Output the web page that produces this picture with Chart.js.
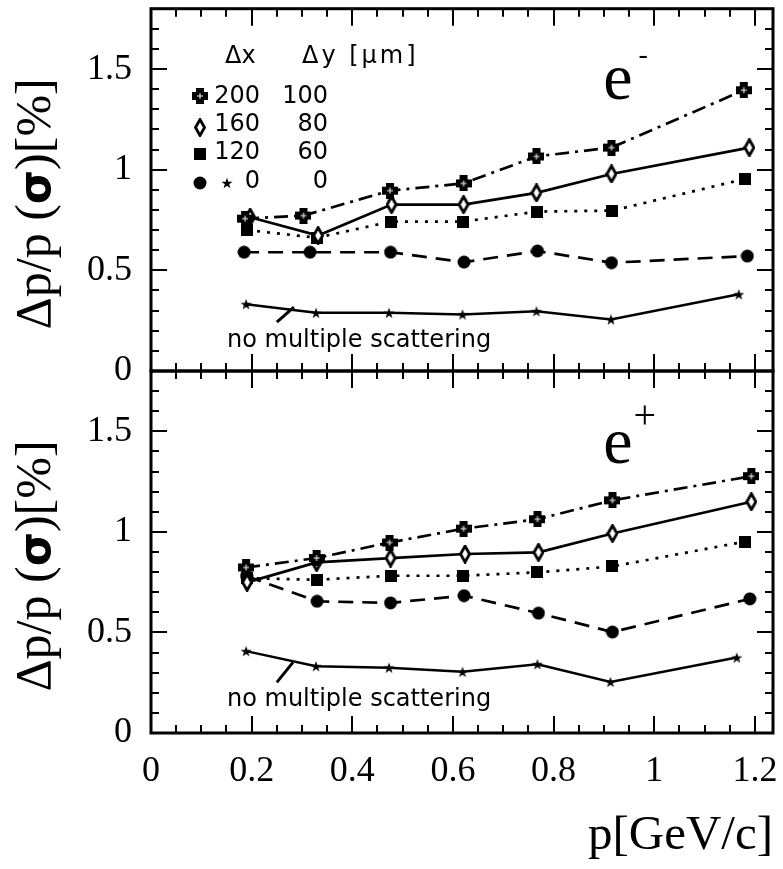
<!DOCTYPE html>
<html lang="en">
<head>
  <meta charset="UTF-8">
  <title>Momentum resolution e- / e+</title>
  <script src="https://cdn.jsdelivr.net/npm/chart.js"></script>
  <style>
    html, body { margin: 0; padding: 0; background: #fff; }
    #wrap { position: relative; width: 783px; height: 869px; }
    canvas { position: absolute; left: 0; }
    #top { top: 0; }
    #bot { top: 360px; }
  </style>
</head>
<body>
<div id="wrap">
  <canvas id="top" width="783" height="380"></canvas>
  <canvas id="bot" width="783" height="509"></canvas>
</div>
<script>
  // e- panel (top)
  const pCrossNeg = [0.187, 0.303, 0.475, 0.621, 0.766, 0.915, 1.178];
  const crossNeg  = [0.757, 0.772, 0.896, 0.932, 1.066, 1.110, 1.395];
  const pDiamNeg  = [0.197, 0.332, 0.478, 0.621, 0.766, 0.915, 1.189];
  const diamNeg   = [0.764, 0.673, 0.827, 0.827, 0.885, 0.979, 1.110];
  const pSqNeg    = [0.191, 0.330, 0.476, 0.619, 0.768, 0.917, 1.180];
  const sqNeg     = [0.700, 0.662, 0.742, 0.742, 0.792, 0.797, 0.954];
  const pCircNeg  = [0.185, 0.316, 0.476, 0.622, 0.768, 0.915, 1.185];
  const circNeg   = [0.590, 0.590, 0.590, 0.541, 0.596, 0.538, 0.571];
  const pStarNeg  = [0.189, 0.328, 0.473, 0.619, 0.766, 0.914, 1.168];
  const starNeg   = [0.332, 0.289, 0.289, 0.281, 0.297, 0.256, 0.381];

  // e+ panel (bottom)
  const pCrossPos = [0.189, 0.329, 0.474, 0.621, 0.768, 0.917, 1.193];
  const crossPos  = [0.823, 0.870, 0.947, 1.016, 1.063, 1.157, 1.277];
  const pDiamPos  = [0.191, 0.329, 0.476, 0.624, 0.770, 0.917, 1.193];
  const diamPos   = [0.749, 0.848, 0.870, 0.890, 0.898, 0.992, 1.150];
  const pSqPos    = [0.190, 0.330, 0.476, 0.619, 0.768, 0.917, 1.181];
  const sqPos     = [0.770, 0.762, 0.782, 0.782, 0.799, 0.828, 0.952];
  const pCircPos  = [0.190, 0.330, 0.476, 0.622, 0.770, 0.917, 1.190];
  const circPos   = [0.780, 0.655, 0.647, 0.683, 0.596, 0.502, 0.667];
  const pStarPos  = [0.189, 0.328, 0.473, 0.619, 0.768, 0.913, 1.164];
  const starPos   = [0.407, 0.332, 0.325, 0.304, 0.342, 0.254, 0.375];

  // legend: resolution in x and y [um]
  const legendDx = ['200', '160', '120', '0'];
  const legendDy = ['100', '80', '60', '0'];

  const xMax = 1.236, yMax = 1.8;
  const xTitle = 'p[GeV/c]';
  const noMsLabel = 'no multiple scattering';
  const SERIF = '"Liberation Serif", "Times New Roman", serif';
  const SANS = '"DejaVu Sans", sans-serif';

  Chart.defaults.font.family = SERIF;
  Chart.defaults.color = '#000';

  // marker images
  function marker(w, h, draw) {
    const c = document.createElement('canvas');
    c.width = w; c.height = h;
    draw(c.getContext('2d'), w, h);
    return c;
  }
  const crossImg = marker(16, 16, g => {
    g.fillStyle = '#000';
    g.fillRect(0, 4, 16, 8);
    g.fillRect(4, 0, 8, 16);
    g.fillStyle = '#fff';
    g.fillRect(7.5, 5, 1, 6);
    g.fillRect(5, 7.5, 6, 1);
  });
  const diamImg = marker(12, 19, g => {
    g.beginPath();
    g.moveTo(6, 1.5); g.lineTo(10.5, 9.5); g.lineTo(6, 17.5); g.lineTo(1.5, 9.5);
    g.closePath();
    g.fillStyle = '#fff'; g.fill();
    g.strokeStyle = '#000'; g.lineWidth = 2.8; g.stroke();
  });
  const sqImg = marker(12, 12, g => { g.fillStyle = '#000'; g.fillRect(0, 0, 12, 12); });
  const circImg = marker(14, 14, g => {
    g.fillStyle = '#000'; g.beginPath(); g.arc(7, 7, 6.5, 0, Math.PI * 2); g.fill();
  });
  const starImg = marker(12, 12, g => {
    g.fillStyle = '#000'; g.beginPath();
    for (let i = 0; i < 10; i++) {
      const r = i % 2 ? 2.3 : 5.8;
      const a = -Math.PI / 2 + i * Math.PI / 5;
      g.lineTo(6 + r * Math.cos(a), 6.5 + r * Math.sin(a));
    }
    g.closePath(); g.fill();
  });

  function series(px, py, img, dash, width) {
    return {
      data: px.map((v, i) => ({ x: v, y: py[i] })),
      showLine: true,
      borderColor: '#000',
      borderWidth: width || 2.7,
      borderDash: dash,
      pointStyle: img,
      pointRadius: 6,
      tension: 0
    };
  }

  // y title in pieces: sigma is set in a bold sans face
  function drawYTitle(ctx, cx, cy) {
    const parts = [
      ['Δp/p (', '50px ' + SERIF],
      ['σ', 'bold 44px ' + SANS],
      [')[%]', '50px ' + SERIF]
    ];
    let total = 0;
    parts.forEach(p => { ctx.font = p[1]; p.push(ctx.measureText(p[0]).width); total += p[2]; });
    ctx.save();
    ctx.translate(cx, cy);
    ctx.rotate(-Math.PI / 2);
    ctx.textAlign = 'left';
    ctx.textBaseline = 'alphabetic';
    let pos = -total / 2;
    parts.forEach(p => { ctx.font = p[1]; ctx.fillText(p[0], pos, 0); pos += p[2]; });
    ctx.restore();
  }

  // frame, inward ticks, titles and annotations
  const deco = {
    id: 'deco',
    afterDraw(chart, args, o) {
      const { ctx, chartArea: a, scales: { x, y } } = chart;
      const X = v => x.getPixelForValue(v), Y = v => y.getPixelForValue(v);
      ctx.save();
      ctx.fillStyle = '#000';
      ctx.strokeStyle = '#000';

      ctx.lineWidth = 2;
      ctx.beginPath();
      for (let i = 0; i * 0.05 <= xMax; i++) {
        const px = Math.round(X(i * 0.05));
        const len = i % 4 === 0 ? 17 : 8;
        ctx.moveTo(px, a.bottom); ctx.lineTo(px, a.bottom - len);
        ctx.moveTo(px, a.top); ctx.lineTo(px, a.top + len);
      }
      for (let j = 0; j * 0.1 <= yMax + 1e-9; j++) {
        const py = Math.round(Y(j * 0.1));
        const len = j % 5 === 0 ? 16 : 8;
        ctx.moveTo(a.left, py); ctx.lineTo(a.left + len, py);
        ctx.moveTo(a.right, py); ctx.lineTo(a.right - len, py);
      }
      ctx.stroke();
      ctx.lineWidth = 3;
      ctx.strokeRect(a.left, a.top, a.right - a.left, a.bottom - a.top);

      drawYTitle(ctx, 50, (a.top + a.bottom) / 2 + 14);

      // particle label
      ctx.textBaseline = 'alphabetic';
      ctx.textAlign = 'center';
      ctx.font = '66px ' + SERIF;
      ctx.fillText('e', X(0.928), Y(o.eY));
      ctx.font = o.supFont + ' ' + SERIF;
      ctx.fillText(o.sup, X(o.supX), Y(o.supY));

      // no multiple scattering
      ctx.textAlign = 'left';
      ctx.font = '24px ' + SANS;
      ctx.fillText(noMsLabel, X(0.151), Y(o.noMsY));
      ctx.lineWidth = 3;
      ctx.beginPath();
      ctx.moveTo(X(o.ptr[0]), Y(o.ptr[1]));
      ctx.lineTo(X(o.ptr[2]), Y(o.ptr[3]));
      ctx.stroke();

      if (o.legend) {
        ctx.font = '24px ' + SANS;
        ctx.textAlign = 'left';
        ctx.fillText('Δx', X(0.147), Y(1.530));
        ctx.letterSpacing = '3px';
        ctx.fillText('Δy [μm]', X(0.300), Y(1.530));
        ctx.letterSpacing = '0px';
        const rowY = [1.332, 1.193, 1.054, 0.911];
        const mkY = [1.366, 1.208, 1.079, 0.936];
        const imgs = [crossImg, diamImg, sqImg, circImg];
        ctx.textAlign = 'right';
        legendDx.forEach((t, i) => {
          ctx.fillText(t, X(0.2166), Y(rowY[i]));
          ctx.fillText(legendDy[i], X(0.3517), Y(rowY[i]));
          const im = imgs[i];
          ctx.drawImage(im, Math.round(X(0.0974) - im.width / 2), Math.round(Y(mkY[i]) - im.height / 2));
        });
        ctx.drawImage(starImg, Math.round(X(0.151) - 6), Math.round(Y(mkY[3]) - 6));
      }
      ctx.restore();
    }
  };

  const plain = v => String(+(+v).toFixed(2));

  const yScale = {
    min: 0, max: yMax,
    grid: { display: false, drawTicks: false },
    border: { display: false },
    ticks: { stepSize: 0.5, includeBounds: false, padding: 19, font: { size: 36 }, callback: plain },
    afterFit(s) { s.width = 151; s.paddingTop = 0; s.paddingBottom = 0; }
  };

  new Chart(document.getElementById('top'), {
    type: 'scatter',
    data: {
      datasets: [
        series(pCrossNeg, crossNeg, crossImg, [14, 6, 3, 6]),
        series(pDiamNeg, diamNeg, diamImg, []),
        series(pSqNeg, sqNeg, sqImg, [3, 7]),
        series(pCircNeg, circNeg, circImg, [15, 9]),
        series(pStarNeg, starNeg, starImg, [], 2.5)
      ]
    },
    options: {
      responsive: false,
      animation: false,
      layout: { padding: { top: 7, right: 10, bottom: 9, left: 0 } },
      plugins: {
        legend: { display: false },
        tooltip: { enabled: false },
        deco: {
          eY: 1.351, sup: '-', supFont: '28px', supX: 0.978, supY: 1.530,
          noMsY: 0.119, ptr: [0.250, 0.243, 0.284, 0.317], legend: true
        }
      },
      scales: {
        x: { type: 'linear', min: 0, max: xMax, display: false },
        y: yScale
      }
    },
    plugins: [deco]
  });

  new Chart(document.getElementById('bot'), {
    type: 'scatter',
    data: {
      datasets: [
        series(pCrossPos, crossPos, crossImg, [14, 6, 3, 6]),
        series(pDiamPos, diamPos, diamImg, []),
        series(pSqPos, sqPos, sqImg, [3, 7]),
        series(pCircPos, circPos, circImg, [15, 9]),
        series(pStarPos, starPos, starImg, [], 2.5)
      ]
    },
    options: {
      responsive: false,
      animation: false,
      layout: { padding: { top: 11, right: 10, bottom: 0, left: 0 } },
      plugins: {
        legend: { display: false },
        tooltip: { enabled: false },
        deco: {
          eY: 1.342, sup: '+', supFont: '40px', supX: 0.981, supY: 1.515,
          noMsY: 0.134, ptr: [0.250, 0.252, 0.282, 0.351], legend: false
        }
      },
      scales: {
        x: {
          type: 'linear', min: 0, max: xMax,
          grid: { display: false, drawTicks: false },
          border: { display: false },
          ticks: { stepSize: 0.2, includeBounds: false, padding: 17, maxRotation: 0, font: { size: 36 }, callback: plain },
          title: { display: true, text: xTitle, align: 'end', font: { size: 49 }, padding: { top: 0, bottom: 3 } },
          afterFit(s) { s.height = 136; s.paddingLeft = 0; s.paddingRight = 0; }
        },
        y: Object.assign({}, yScale)
      }
    },
    plugins: [deco]
  });
</script>
</body>
</html>
